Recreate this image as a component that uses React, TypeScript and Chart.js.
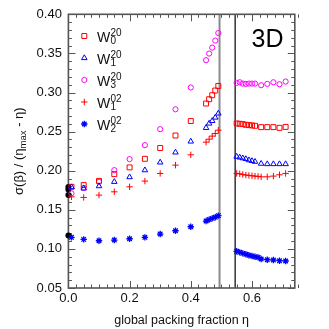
import React, { useEffect, useRef } from 'react';
import { Chart, registerables } from 'chart.js';

Chart.register(...registerables);

// ---------- data ----------
const xLiquid = [0.01, 0.05, 0.10, 0.15, 0.20, 0.25, 0.30, 0.35, 0.40, 0.45, 0.46, 0.47, 0.48, 0.49];
const xSolid = [0.55, 0.56, 0.57, 0.58, 0.59, 0.60, 0.61, 0.63, 0.65, 0.67, 0.69, 0.71];
const xSolidFine = [0.55, 0.56, 0.57, 0.58, 0.59, 0.60, 0.61, 0.62, 0.63, 0.65, 0.67, 0.69, 0.71];

const w0_20Liquid = [0.1794, 0.1816, 0.187, 0.1956, 0.2042, 0.2152, 0.229, 0.245, 0.2635, 0.2859, 0.2914, 0.2965, 0.3025, 0.3084];
const w0_20Solid = [0.2604, 0.26, 0.2596, 0.2587, 0.2583, 0.2579, 0.2574, 0.2557, 0.2557, 0.2557, 0.2548, 0.256];

const w1_20Liquid = [0.179, 0.1774, 0.1803, 0.1858, 0.1918, 0.2007, 0.2106, 0.2234, 0.2374, 0.2548, 0.2604, 0.2637, 0.268, 0.2732];
const w1_20Solid = [0.218, 0.217, 0.216, 0.215, 0.2135, 0.2125, 0.2115, 0.209, 0.2085, 0.2085, 0.2085, 0.2085];

const w3_20Liquid = [0.171, 0.178, 0.1858, 0.2007, 0.2148, 0.2327, 0.2531, 0.2785, 0.3064, 0.3413, 0.3498, 0.3574, 0.3664, 0.3761];
const w3_20Solid = [0.3123, 0.3131, 0.3114, 0.311, 0.3114, 0.3114, 0.3114, 0.3093, 0.311, 0.3131, 0.3106, 0.314];

const w1_02Liquid = [0.1666, 0.1658, 0.1688, 0.173, 0.1794, 0.1867, 0.1965, 0.2071, 0.2203, 0.2365, 0.2403, 0.2442, 0.2476, 0.2518];
const w1_02Solid = [0.1965, 0.196, 0.1952, 0.1944, 0.194, 0.1935, 0.1931, 0.1927, 0.1922, 0.1922, 0.1931, 0.1948, 0.1965];

const w2_02Liquid = [0.1148, 0.1122, 0.1104, 0.1113, 0.113, 0.1148, 0.119, 0.1232, 0.1283, 0.1356, 0.1375, 0.139, 0.1405, 0.1425];
const w2_02Solid = [0.0969, 0.0956, 0.0943, 0.0931, 0.0918, 0.0909, 0.09, 0.0892, 0.0871, 0.0862, 0.0858, 0.0849, 0.0845];

const xZero = [0, 0, 0, 0];
const yZero = [0.179, 0.176, 0.169, 0.117];

const xTicks = [0, 0.2, 0.4, 0.6];
const yTicks = [0.05, 0.10, 0.15, 0.20, 0.25, 0.30, 0.35, 0.40];
const freezingEta = 0.494;
const meltingEta = 0.545;

const xMin = 0, xMax = 0.74, yMin = 0.05, yMax = 0.40;
const xMinorStep = 0.025, yMinorStep = 0.01;

const legendItems = [
  { sub: '0', sup: '20', style: 'rect', color: '#ff0000', r: 3.5 },
  { sub: '1', sup: '20', style: 'triangle', color: '#0000ff', r: 3.2 },
  { sub: '3', sup: '20', style: 'circle', color: '#ff00ff', r: 2.6 },
  { sub: '1', sup: '02', style: 'cross', color: '#ff0000', r: 3.2 },
  { sub: '2', sup: '02', style: 'star', color: '#0000ff', r: 3.2 },
];

const FONT = '"Liberation Sans", Arial, Helvetica, sans-serif';

function pts(xs: number[], ys: number[]) {
  return xs.map((x, i) => ({ x, y: ys[i] }));
}

function drawMarker(ctx: CanvasRenderingContext2D, style: string, x: number, y: number, r: number, color: string) {
  ctx.save();
  ctx.strokeStyle = color;
  ctx.lineWidth = style === 'star' ? 1.3 : 1;
  ctx.beginPath();
  if (style === 'rect') {
    const s = Math.SQRT1_2 * r;
    ctx.rect(x - s, y - s, 2 * s, 2 * s);
  } else if (style === 'triangle') {
    let a = 0;
    ctx.moveTo(x + Math.sin(a) * r, y - Math.cos(a) * r);
    a += (2 * Math.PI) / 3;
    ctx.lineTo(x + Math.sin(a) * r, y - Math.cos(a) * r);
    a += (2 * Math.PI) / 3;
    ctx.lineTo(x + Math.sin(a) * r, y - Math.cos(a) * r);
    ctx.closePath();
  } else if (style === 'circle') {
    ctx.arc(x, y, r, 0, Math.PI * 2);
  } else if (style === 'cross') {
    ctx.moveTo(x, y - r); ctx.lineTo(x, y + r);
    ctx.moveTo(x - r, y); ctx.lineTo(x + r, y);
  } else if (style === 'star') {
    ctx.moveTo(x, y - r); ctx.lineTo(x, y + r);
    ctx.moveTo(x - r, y); ctx.lineTo(x + r, y);
    const d = r * Math.SQRT1_2;
    ctx.moveTo(x - d, y - d); ctx.lineTo(x + d, y + d);
    ctx.moveTo(x - d, y + d); ctx.lineTo(x + d, y - d);
  }
  ctx.stroke();
  ctx.restore();
}

const framePlugin = {
  id: 'frame',
  beforeDatasetsDraw(chart: any) {
    const { ctx, chartArea: a, scales } = chart;
    const xs = scales.x, ys = scales.y;
    ctx.save();
    // phase boundary lines
    ctx.strokeStyle = '#8a8a8a';
    ctx.lineWidth = 2;
    const fx = xs.getPixelForValue(freezingEta);
    ctx.beginPath(); ctx.moveTo(fx, a.top); ctx.lineTo(fx, a.bottom); ctx.stroke();
    ctx.strokeStyle = '#000';
    ctx.lineWidth = 1.2;
    const mx = xs.getPixelForValue(meltingEta);
    ctx.beginPath(); ctx.moveTo(mx, a.top); ctx.lineTo(mx, a.bottom); ctx.stroke();

    // ticks
    ctx.strokeStyle = '#555';
    ctx.lineWidth = 1;
    const nX = Math.round((xMax - xMin) / xMinorStep);
    for (let i = 0; i <= nX; i++) {
      const v = xMin + i * xMinorStep;
      const major = Math.abs(v / 0.2 - Math.round(v / 0.2)) < 1e-6;
      const len = major ? 7 : 3.5;
      const px = Math.round(xs.getPixelForValue(v)) + 0.5;
      ctx.beginPath();
      ctx.moveTo(px, a.bottom); ctx.lineTo(px, a.bottom - len);
      ctx.moveTo(px, a.top); ctx.lineTo(px, a.top + len);
      ctx.stroke();
    }
    const nY = Math.round((yMax - yMin) / yMinorStep);
    for (let i = 0; i <= nY; i++) {
      const v = yMin + i * yMinorStep;
      const major = Math.abs(v / 0.05 - Math.round(v / 0.05)) < 1e-6;
      const len = major ? 7 : 3.5;
      const py = Math.round(ys.getPixelForValue(v)) + 0.5;
      ctx.beginPath();
      ctx.moveTo(a.left, py); ctx.lineTo(a.left + len, py);
      ctx.moveTo(a.right, py); ctx.lineTo(a.right - len, py);
      ctx.stroke();
    }
    // frame
    ctx.strokeStyle = '#555';
    ctx.lineWidth = 1.6;
    ctx.strokeRect(a.left, a.top, a.right - a.left, a.bottom - a.top);
    ctx.restore();
  },
  afterDraw(chart: any) {
    const { ctx, chartArea: a } = chart;
    ctx.save();
    // legend
    legendItems.forEach((it, i) => {
      const ry = 36 + i * 22;
      drawMarker(ctx, it.style, 84.3, ry, it.r, it.color);
      ctx.fillStyle = '#111';
      ctx.textAlign = 'left';
      ctx.textBaseline = 'alphabetic';
      ctx.font = `14px ${FONT}`;
      ctx.fillText('W', 97, ry + 5.5);
      ctx.font = `10px ${FONT}`;
      ctx.fillText(it.sup, 110.5, ry - 0.5);
      ctx.fillText(it.sub, 110.5, ry + 8.3);
    });
    // 3D label
    ctx.font = `25px ${FONT}`;
    ctx.fillStyle = '#000';
    ctx.fillText('3D', 251.5, 46.5);

    // x title
    ctx.font = `12.5px ${FONT}`;
    ctx.textAlign = 'center';
    ctx.fillStyle = '#111';
    ctx.fillText('global packing fraction η', (a.left + a.right) / 2, 324);

    // y title with subscript
    const p1 = 'σ(β) / (η';
    const p2 = 'max';
    const p3 = ' - η)';
    ctx.font = `13px ${FONT}`;
    const w1 = ctx.measureText(p1).width;
    const w3 = ctx.measureText(p3).width;
    ctx.font = `9.5px ${FONT}`;
    const w2 = ctx.measureText(p2).width;
    const total = w1 + w2 + w3;
    ctx.translate(22.5, (a.top + a.bottom) / 2);
    ctx.rotate(-Math.PI / 2);
    ctx.textAlign = 'left';
    ctx.textBaseline = 'alphabetic';
    let cx = -total / 2;
    ctx.font = `13px ${FONT}`;
    ctx.fillText(p1, cx, 0);
    cx += w1;
    ctx.font = `9.5px ${FONT}`;
    ctx.fillText(p2, cx, 3.5);
    cx += w2;
    ctx.font = `13px ${FONT}`;
    ctx.fillText(p3, cx, 0);
    ctx.restore();
  },
};

export default function App() {
  const ref = useRef<HTMLCanvasElement | null>(null);
  useEffect(() => {
    if (!ref.current) return;
    const mk = (label: string, data: any[], style: string, color: string, r: number, bw = 1) => ({
      label,
      data,
      showLine: false,
      pointStyle: style,
      pointRadius: r,
      pointBorderColor: color,
      pointBackgroundColor: 'rgba(0,0,0,0)',
      pointBorderWidth: bw,
      borderColor: color,
      backgroundColor: 'rgba(0,0,0,0)',
      clip: false as any,
    });
    const chart = new Chart(ref.current, {
      type: 'scatter',
      data: {
        datasets: [
          mk('W1^02', [...pts(xLiquid, w1_02Liquid), ...pts(xSolidFine, w1_02Solid)], 'cross', '#ff0000', 3.2),
          mk('W2^02', [...pts(xLiquid, w2_02Liquid), ...pts(xSolidFine, w2_02Solid)], 'star', '#0000ff', 3.2, 1.3),
          mk('W1^20', [...pts(xLiquid, w1_20Liquid), ...pts(xSolid, w1_20Solid)], 'triangle', '#0000ff', 3.2),
          mk('W0^20', [...pts(xLiquid, w0_20Liquid), ...pts(xSolid, w0_20Solid)], 'rect', '#ff0000', 3.5),
          mk('W3^20', [...pts(xLiquid, w3_20Liquid), ...pts(xSolid, w3_20Solid)], 'circle', '#ff00ff', 2.6),
          {
            label: 'limit',
            data: pts(xZero, yZero),
            showLine: false,
            pointStyle: 'circle',
            pointRadius: 3,
            pointBackgroundColor: '#000',
            pointBorderColor: '#000',
            pointBorderWidth: 0,
            clip: false as any,
          },
        ],
      },
      options: {
        animation: false,
        responsive: false,
        maintainAspectRatio: false,
        layout: { padding: { top: 14, right: 34.2, left: 0, bottom: 0 } },
        plugins: { legend: { display: false }, tooltip: { enabled: false } },
        scales: {
          x: {
            type: 'linear',
            min: xMin,
            max: xMax,
            grid: { display: false, drawTicks: false },
            border: { display: false },
            ticks: {
              color: '#111',
              font: { family: FONT, size: 13 },
              padding: 3,
              callback: (v: any) => Number(v).toFixed(1),
            },
            afterBuildTicks: (s: any) => { s.ticks = xTicks.map((v) => ({ value: v })); },
            afterFit: (s: any) => { s.height = 41; },
          },
          y: {
            type: 'linear',
            min: yMin,
            max: yMax,
            grid: { display: false, drawTicks: false },
            border: { display: false },
            ticks: {
              color: '#111',
              font: { family: FONT, size: 13 },
              padding: 6.5,
              callback: (v: any) => Number(v).toFixed(2),
            },
            afterBuildTicks: (s: any) => { s.ticks = yTicks.map((v) => ({ value: v })); },
            afterFit: (s: any) => { s.width = 68.4; },
          },
        },
      },
      plugins: [framePlugin],
    });
    return () => chart.destroy();
  }, []);
  return (
    <div style={{ position: 'fixed', left: 0, top: 0, width: 329, height: 329, background: '#fff' }}>
      <canvas ref={ref} width={329} height={329} style={{ display: 'block', width: 329, height: 329 }} />
    </div>
  );
}
